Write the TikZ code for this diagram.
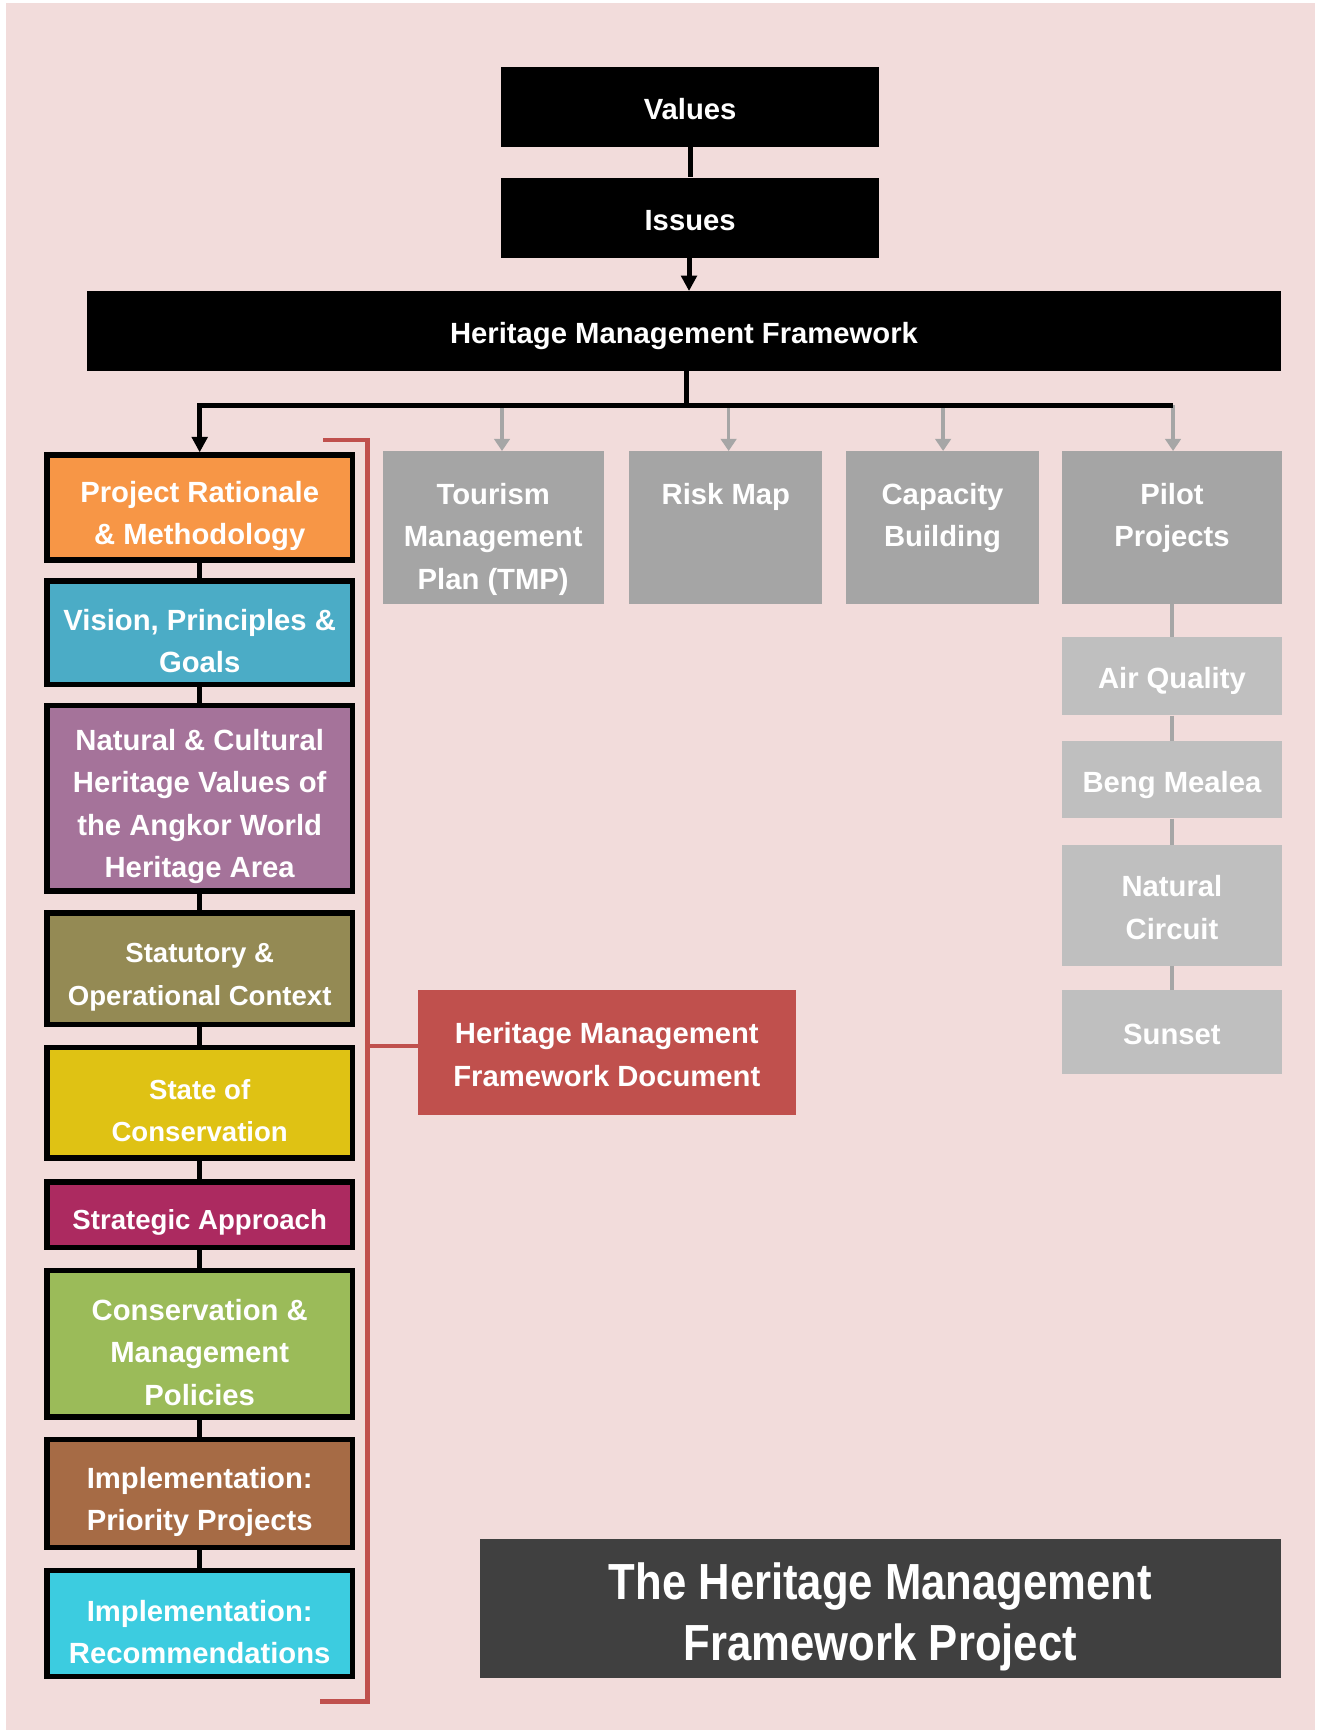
\documentclass[tikz,border=0pt]{standalone}
\usepackage{fontspec}
\setmainfont{Liberation Sans}
\newfontfamily\titlefont[FakeStretch=0.86]{Liberation Sans}
\usetikzlibrary{positioning,arrows.meta}
\definecolor{bgpink}{HTML}{F2DCDB}
\definecolor{topgrey}{HTML}{A5A5A5}
\definecolor{subgrey}{HTML}{BFBFBF}
\definecolor{arrowgrey}{HTML}{A6A6A6}
\definecolor{hmfred}{HTML}{C0504D}
\definecolor{titlegrey}{HTML}{404040}
\definecolor{prmorange}{HTML}{F79646}
\definecolor{visblue}{HTML}{4BACC6}
\definecolor{ncvmauve}{HTML}{A5739A}
\definecolor{socolive}{HTML}{948A54}
\definecolor{stayellow}{HTML}{DFC214}
\definecolor{sapmagenta}{HTML}{AC2A60}
\definecolor{cmpgreen}{HTML}{9BBB59}
\definecolor{ippbrown}{HTML}{A66B45}
\definecolor{irccyan}{HTML}{3CCCE0}
\newcommand\upstrut{\rule{0pt}{1.06em}}
\newcommand\dnstrut{\rule[-0.21em]{0pt}{0.21em}}
\newcommand\boxstrut{\rule{0pt}{1.3em}}

\begin{document}
\begin{tikzpicture}[x=1pt,y=-1pt,
  font=\fontsize{26.5}{38.5}\selectfont\bfseries,
  blk/.style={fill=black,text=white,minimum width=343pt,minimum height=72pt,inner sep=0pt},
  grey/.style={fill=topgrey,minimum width=200pt,minimum height=138pt,inner sep=0pt},
  glabel/.style={anchor=north,yshift=-29pt,inner sep=0pt,align=center,text=white},
  lgrey/.style={fill=subgrey,text=white,align=center,minimum width=200pt,inner sep=0pt},
  part/.style={draw=black,line width=5pt,text=white,align=center,minimum width=277pt},
  smaller/.style={font=\fontsize{25}{38.5}\selectfont\bfseries},
  blkline/.style={draw=black,line width=4.5pt},
  blkarrow/.style={blkline,-{Triangle[width=14pt,length=14pt]}},
  greyarrow/.style={draw=arrowgrey,line width=3pt,-{Triangle[width=14pt,length=11pt]}},
  redline/.style={draw=hmfred,line width=4pt}]
	\useasboundingbox (0,0) rectangle (1195.5,1568);
	\fill[white] (0,0) rectangle (1195.5,1568);
	\fill[bgpink] (5,3) rectangle (1192,1568);

	\node[blk] (val) at (625.5,97) {\upstrut Values\dnstrut};
	\node[blk,minimum height=73pt] (iss) at (625.5,197.5) {\upstrut Issues\dnstrut};
	\node[blk,minimum width=1082pt] (hmf) at (620,300) {\upstrut Heritage Management Framework\dnstrut};

	\node[grey,label={[glabel]north:{Tourism\\Management\\Plan (TMP)}}] (tmp) at (447,478) {};
	\node[grey,minimum width=175pt,right=23pt of tmp,label={[glabel]north:{Risk Map}}] (risk) {};
	\node[grey,minimum width=175pt,right=21pt of risk,label={[glabel]north:{Capacity\\Building}}] (cap) {};
	\node[grey,right=20pt of cap,label={[glabel]north:{Pilot\\Projects}}] (pilot) {};

	\node[lgrey,minimum height=71pt,below=30pt of pilot] (air) {\upstrut Air Quality\dnstrut};
	\node[lgrey,minimum height=70pt,below=23pt of air] (beng) {\upstrut Beng Mealea\dnstrut};
	\node[lgrey,minimum height=109pt,below=24pt of beng] (nat) {\upstrut Natural\\Circuit\dnstrut};
	\node[lgrey,minimum height=76pt,below=22pt of nat] (sun) {\upstrut Sunset\dnstrut};

	\node[part,fill=prmorange,minimum height=95pt] (prm) at (181,460) {\boxstrut Project Rationale\\\& Methodology};
	\node[part,fill=visblue,minimum height=94pt,below=14pt of prm] (vis) {\boxstrut Vision, Principles \&\\Goals};
	\node[part,fill=ncvmauve,minimum height=168pt,below=14pt of vis] (ncv) {\boxstrut Natural \& Cultural\\Heritage Values of\\the Angkor World\\Heritage Area};
	\node[part,smaller,fill=socolive,minimum height=101pt,below=15pt of ncv] (soc) {\boxstrut Statutory \&\\Operational Context};
	\node[part,smaller,fill=stayellow,minimum height=100pt,below=16pt of soc] (sta) {\boxstrut State of\\Conservation};
	\node[part,smaller,fill=sapmagenta,minimum height=59pt,below=17pt of sta] (sap) {\boxstrut Strategic Approach};
	\node[part,fill=cmpgreen,minimum height=133pt,below=16pt of sap] (cmp) {\boxstrut Conservation \&\\Management\\Policies};
	\node[part,fill=ippbrown,minimum height=98pt,below=15pt of cmp] (ipp) {\boxstrut Implementation:\\Priority Projects};
	\node[part,fill=irccyan,minimum height=96pt,below=16pt of ipp] (irc) {\boxstrut Implementation:\\Recommendations};

	\node[fill=hmfred,text=white,align=center,minimum width=342pt,minimum height=114pt,inner sep=0pt] (doc) at (550,954) {\upstrut Heritage Management\\Framework Document\dnstrut};
	\node[fill=titlegrey,text=white,align=center,minimum width=726pt,minimum height=126pt,inner sep=0pt,
	  font=\titlefont\fontsize{46}{55}\selectfont\bfseries] (title) at (798,1458) {\upstrut The Heritage Management\\Framework Project\dnstrut};

	\draw[blkline] (val) -- (iss);
	\draw[blkarrow] ([xshift=-1pt]iss.south) -- ([xshift=-1pt]iss.south |- hmf.north);
	\coordinate (bus) at ([xshift=2pt,yshift=-31pt]hmf.south);
	\foreach \n/\dx in {tmp/8,risk/2.5,cap/0.5,pilot/1}{
	  \coordinate (t\n) at ([xshift=\dx pt]\n.north);
	  \draw[greyarrow] (t\n |- bus) -- (t\n);
	}
	\draw[blkline] (bus |- hmf.south) -- (bus);
	\draw[blkarrow] (bus -| tpilot) -- (bus -| prm.north) -- (prm.north);

	\path[draw=arrowgrey,line width=4pt]
	  (pilot) edge (air)
	  (air) edge (beng)
	  (beng) edge (nat)
	  (nat) edge (sun);
	\path[blkline]
	  (prm) edge (vis)
	  (vis) edge (ncv)
	  (ncv) edge (soc)
	  (soc) edge (sta)
	  (sta) edge (sap)
	  (sap) edge (cmp)
	  (cmp) edge (ipp)
	  (ipp) edge (irc);

	\coordinate (brtop) at (293,399);
	\coordinate (brbot) at (290,1542);
	\coordinate (brx) at (333,948);
	\draw[redline] (brtop) -| (brbot -| brx) -- (brbot);
	\draw[redline] (brx) -- (doc.west |- brx);
\end{tikzpicture}
\end{document}
